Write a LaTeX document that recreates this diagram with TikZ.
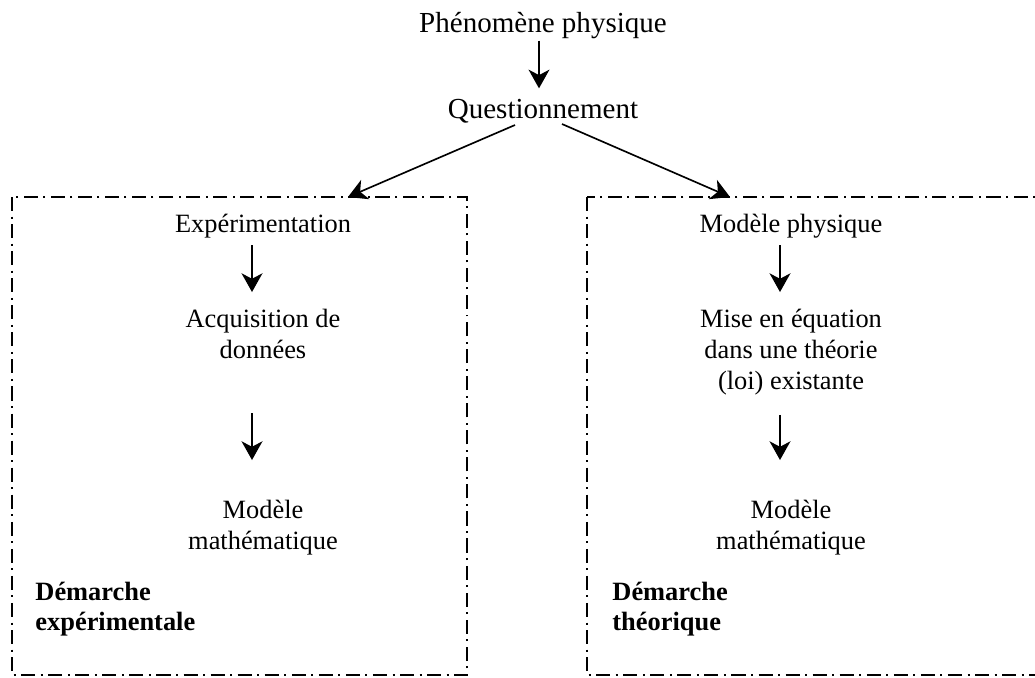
\documentclass[tikz,border=0pt]{standalone}
\usepackage{fontspec}
\setmainfont{Liberation Serif}
\usetikzlibrary{positioning}
\usetikzlibrary{arrows.meta}

\tikzset{
	etape/.style={inner sep=0pt, align=center, font=\fontsize{12}{14.1}\selectfont},
	titre/.style={inner sep=0pt, font=\fontsize{13.2}{15.5}\selectfont},
	demarche/.style={inner sep=0pt, align=left, font=\fontsize{12}{13.6}\selectfont\bfseries},
	fleche/.style={line width=0.75pt, -{Stealth[length=8.5pt,width=9.5pt,inset=2.5pt]}},
	cadre/.style={line width=0.5pt, dash pattern=on 6.4pt off 2.5pt on 0.9pt off 2.5pt}
}

\begin{document}
\begin{tikzpicture}[x=0.4545pt,y=-0.4545pt]
			\useasboundingbox (0,0) rectangle (1035,677);
			% cadres
			\draw[cadre] (12,197) rectangle (467,675);
			\draw[cadre] (587,197) rectangle (1060,675);
			\coordinate (expin) at (348,197);
			\coordinate (theoin) at (730,197);

			\node (phen)	[titre, anchor=base]	at (543,32)	{Phénomène physique};
			\node (quest)	[titre, anchor=base]	at (543,118)	{Questionnement};

			% demarche experimentale
			\node (expe)	[etape, anchor=base]	at (263,232)	{Expérimentation};
			\node (acq)		[etape, anchor=north]	at (263,309)	{Acquisition de\\données};
			\node (mathexp)	[etape, anchor=north]	at (263,500)	{Modèle\\mathématique};
			\node (demexp)	[demarche, anchor=north west]	at (35,582)	{Démarche\\expérimentale};

			% demarche theorique
			\node (modphys)	[etape, anchor=base]	at (791,232)	{Modèle physique};
			\node (eq)		[etape, anchor=north]	at (791,309)	{Mise en équation\\dans une théorie\\(loi) existante};
			\node (maththeo)	[etape, anchor=north]	at (791,500)	{Modèle\\mathématique};
			\node (demtheo)	[demarche, anchor=north west]	at (612,582)	{Démarche\\théorique};

			\draw[fleche] ([shift={(-4,2)}]phen.south) -- ([shift={(-4,-10)}]quest.north);
			\draw[fleche] ([shift={(-28,7)}]quest.base) -- (expin);
			\draw[fleche] ([shift={(19,6)}]quest.base) -- (theoin);

			\draw[fleche] ([shift={(-11,7)}]expe.south) -- ([shift={(-11,-17)}]acq.north);
			\draw[fleche] ([shift={(-11,54)}]acq.south) -- ([shift={(-11,-40)}]mathexp.north);
			\draw[fleche] ([shift={(-11,7)}]modphys.south) -- ([shift={(-11,-17)}]eq.north);
			\draw[fleche] ([shift={(-11,19)}]eq.south) -- ([shift={(-11,-40)}]maththeo.north);
		\end{tikzpicture}
\end{document}
